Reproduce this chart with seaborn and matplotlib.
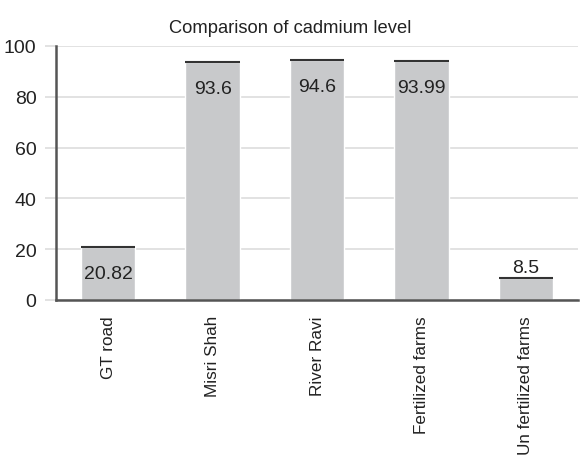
import matplotlib
matplotlib.use("Agg")
import matplotlib.pyplot as plt
import seaborn as sns
import pandas as pd

sites = ["GT road", "Misri Shah", "River Ravi", "Fertilized farms", "Un fertilized farms"]
cadmium = [20.82, 93.6, 94.6, 93.99, 8.5]
value_labels = ["20.82", "93.6", "94.6", "93.99", "8.5"]
y_ticks = [0, 20, 40, 60, 80, 100]

sns.set_theme(style="white")
plt.rcParams["font.family"] = ["Liberation Sans", "DejaVu Sans"]

df = pd.DataFrame({"site": sites, "cadmium": cadmium})

fig = plt.figure(figsize=(5.8, 4.56), dpi=100)
ax = fig.add_axes([0.0966, 0.34, 0.9, 0.557])

sns.barplot(data=df, x="site", y="cadmium", color="#c8c9cb", saturation=1,
            width=0.52, ax=ax, zorder=2)

# dark cap line along the top of each bar
for p in ax.patches:
    ax.hlines(p.get_height(), p.get_x(), p.get_x() + p.get_width(),
              color="#333333", lw=1.5, zorder=3)

for p, txt in zip(ax.patches, value_labels):
    cx = p.get_x() + p.get_width() / 2
    h = p.get_height()
    if h > 15:
        ax.annotate(txt, (cx, h), xytext=(0, -19), textcoords="offset points",
                    ha="center", va="center", fontsize=14, color="#222222", zorder=4)
    else:
        ax.annotate(txt, (cx, h), xytext=(0, 8), textcoords="offset points",
                    ha="center", va="center", fontsize=14, color="#222222", zorder=4)

ax.set_ylim(0, 100)
ax.set_xlim(-0.5, 4.5)
ax.set_yticks(y_ticks)
ax.set_yticklabels([str(v) for v in y_ticks], fontsize=14, color="#222222")
ax.yaxis.grid(True, color="#dddddd", lw=1.2, zorder=0)
ax.tick_params(axis="y", length=8, color="#dddddd", width=1.2, pad=6, left=True)
ax.tick_params(axis="x", length=0, pad=11)
ax.set_xticks(range(len(sites)))
ax.set_xticklabels(sites, rotation=90, fontsize=12.3, color="#222222")
ax.set_xlabel("")
ax.set_ylabel("")

for side in ["top", "right"]:
    ax.spines[side].set_visible(False)
for side in ["left", "bottom"]:
    ax.spines[side].set_color("#555555")
    ax.spines[side].set_linewidth(1.8)

fig.text(0.5, 0.937, "Comparison of cadmium level", ha="center", va="center",
         fontsize=13.2, color="#222222")

fig.savefig("out.png", dpi=100)
